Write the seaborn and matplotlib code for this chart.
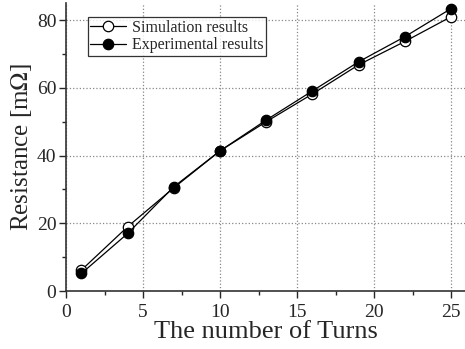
import matplotlib
matplotlib.use("Agg")
import matplotlib.pyplot as plt
from matplotlib.ticker import MultipleLocator
import seaborn as sns
import pandas as pd

turns = [1, 4, 7, 10, 13, 16, 19, 22, 25]
simulation = [6.2, 19.0, 30.5, 41.4, 50.0, 58.2, 66.8, 73.7, 81.0]
experimental = [5.2, 17.0, 30.8, 41.4, 50.5, 59.1, 67.7, 75.1, 83.4]

df = pd.DataFrame({"turns": turns, "sim": simulation, "exp": experimental})

sns.set_style("ticks")
plt.rcParams["font.family"] = ["Liberation Serif", "DejaVu Serif"]
plt.rcParams["mathtext.fontset"] = "stix"

fig, ax = plt.subplots(figsize=(4.65, 3.49), dpi=100)
fig.subplots_adjust(left=0.142, right=1.0, bottom=0.166, top=0.991)

sns.lineplot(data=df, x="turns", y="sim", ax=ax, color="black", lw=0.9,
             marker="o", markersize=7.5, markerfacecolor="white",
             markeredgecolor="black", markeredgewidth=0.9,
             label="Simulation results")
sns.lineplot(data=df, x="turns", y="exp", ax=ax, color="black", lw=0.9,
             marker="o", markersize=7.5, markerfacecolor="black",
             markeredgecolor="black", markeredgewidth=0.9,
             label="Experimental results")

ax.set_xlim(0, 25.9)
ax.set_ylim(0, 85)
ax.xaxis.set_major_locator(MultipleLocator(5))
ax.xaxis.set_minor_locator(MultipleLocator(2.5))
ax.yaxis.set_major_locator(MultipleLocator(20))
ax.yaxis.set_minor_locator(MultipleLocator(10))
ax.tick_params(which="major", direction="out", length=5, width=1, labelsize=14)
ax.tick_params(axis="x", which="major", pad=4)
ax.tick_params(axis="y", which="major", pad=2)
ax.tick_params(which="minor", direction="out", length=3, width=1)
ax.grid(True, which="major", color="#888888", linestyle=":", linewidth=0.9)

for side in ["top", "right"]:
    ax.spines[side].set_visible(False)
for side in ["left", "bottom"]:
    ax.spines[side].set_color("#333333")
    ax.spines[side].set_linewidth(1.2)

ax.set_xlabel("The number of Turns", fontsize=19, labelpad=0)
ax.set_ylabel("Resistance [m$\\Omega$]", fontsize=18, labelpad=2)

leg = ax.legend(loc="upper left", bbox_to_anchor=(0.055, 0.951), fontsize=11.5,
                frameon=True, fancybox=False, edgecolor="black",
                borderpad=0.15, labelspacing=0.1, handlelength=2.2,
                handletextpad=0.4, borderaxespad=0)
leg.get_frame().set_linewidth(0.9)

fig.savefig("out.png", dpi=100)
